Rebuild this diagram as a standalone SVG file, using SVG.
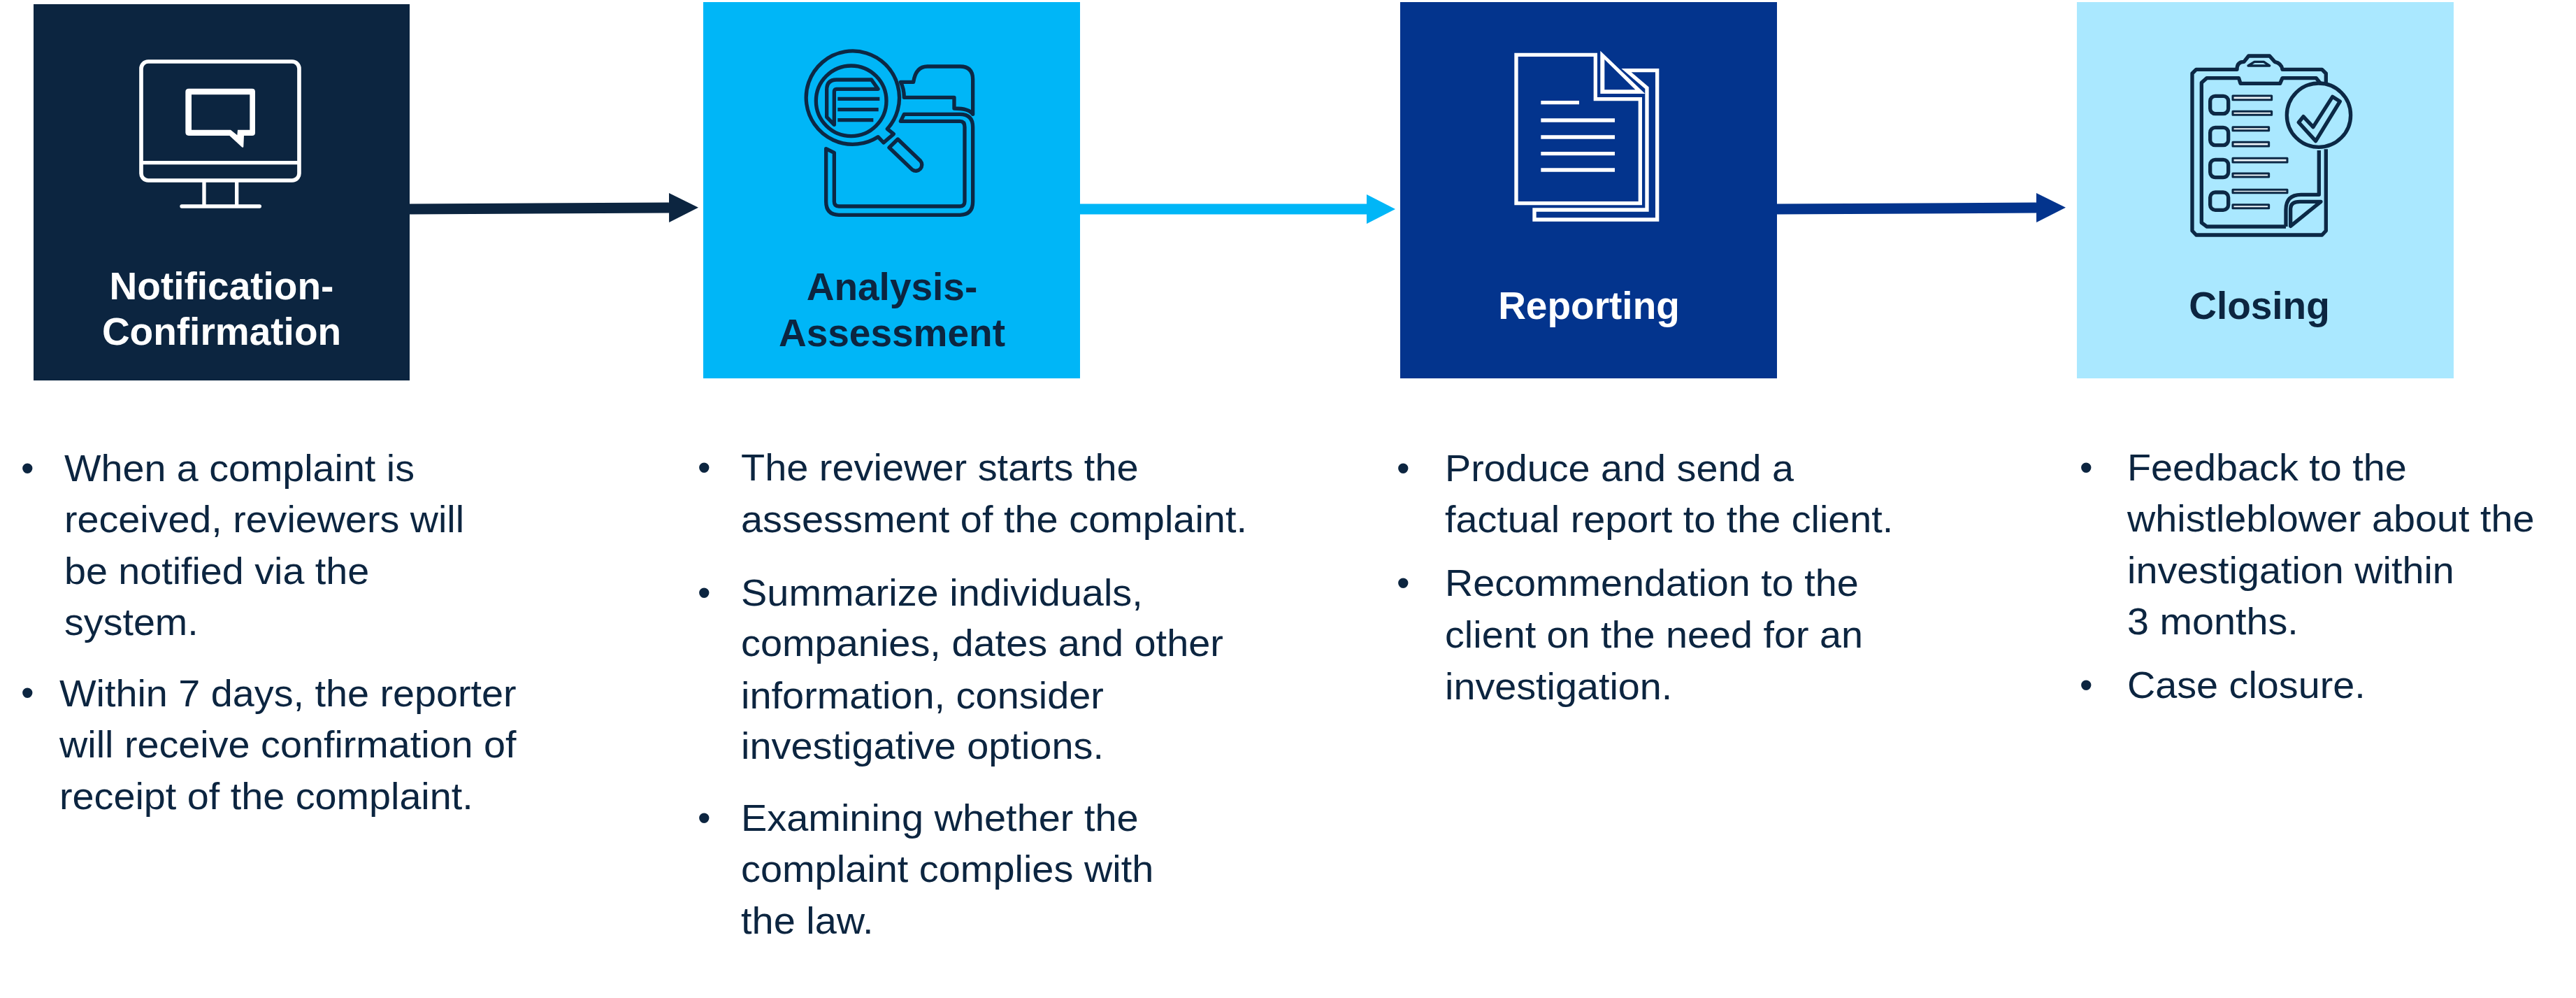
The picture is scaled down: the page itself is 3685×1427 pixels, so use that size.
<svg xmlns="http://www.w3.org/2000/svg" width="3685" height="1427" viewBox="0 0 3685 1427">
<style>
text{font-family:"Liberation Sans",Arial,sans-serif}
.h{font-size:55px;font-weight:700;text-anchor:middle}
.w{fill:#fff}
.d{fill:#0c2540}
.t{font-size:53px;fill:#0c2540}
.i{fill:none;stroke-linejoin:round}
.iw{stroke:#fff}
.id{stroke:#0c2845}
.c{stroke-width:15;fill:none}
.cl{fill:#eef4f8;stroke:#0c2845;stroke-width:9}
</style>
<defs>
<marker id="m1" markerUnits="userSpaceOnUse" markerWidth="44" markerHeight="44" refX="0" refY="21" orient="auto"><path d="M0 0L42 21L0 42Z" fill="#0c2540"/></marker>
<marker id="m2" markerUnits="userSpaceOnUse" markerWidth="44" markerHeight="44" refX="0" refY="21" orient="auto"><path d="M0 0L41 21L0 42Z" fill="#00b6f7"/></marker>
<marker id="m3" markerUnits="userSpaceOnUse" markerWidth="44" markerHeight="44" refX="0" refY="21" orient="auto"><path d="M0 0L42 21L0 42Z" fill="#03348d"/></marker>
</defs>
<rect width="3685" height="1427" fill="#fff"/>
<g id="connectors">
<line x1="586" y1="299" x2="957" y2="297" class="c" stroke="#0c2540" marker-end="url(#m1)"/>
<line x1="1545" y1="299" x2="1955" y2="299" class="c" stroke="#00b6f7" marker-end="url(#m2)"/>
<line x1="2542" y1="299" x2="2913" y2="297" class="c" stroke="#03348d" marker-end="url(#m3)"/>
</g>
<g id="node-notification">
<rect x="48" y="6" width="538" height="538" fill="#0c2540"/>
<g transform="translate(180 70) scale(.3333)" class="i iw">
<rect x="66" y="54" width="678" height="510" rx="30" stroke-width="17"/>
<path d="M66 488H744" stroke-width="16"/>
<path d="M336 564V675M476 564V675" stroke-width="16"/>
<path d="M240 675H574" stroke-width="16" stroke-linecap="round"/>
<path d="M270 170H542Q555 170 555 183V360Q555 372 542 372H507L505 418Q505 426 497 420L445 372H270Q256 372 256 358V184Q256 170 270 170ZM282 196V347H450L478 370L480 347H532V196Z" fill="#fff" fill-rule="evenodd" stroke="none"/>
</g>
<text class="h w" x="317" y="428">Notification-</text>
<text class="h w" x="317" y="493">Confirmation</text>
<text class="t" x="30" y="688">•</text>
<text class="t" x="30" y="1009">•</text>
<g transform="translate(92 0) scale(1.05 1)">
<text class="t" y="688">When a complaint is</text>
<text class="t" y="761">received, reviewers will</text>
<text class="t" y="835">be notified via the</text>
<text class="t" y="908">system.</text>
</g>
<g transform="translate(85 0) scale(1.052 1)">
<text class="t" y="1010">Within 7 days, the reporter</text>
<text class="t" y="1083">will receive confirmation of</text>
<text class="t" y="1157">receipt of the complaint.</text>
</g>
</g>
<g id="node-analysis">
<rect x="1006" y="3" width="539" height="538" fill="#00b6f7"/>
<g transform="translate(1130 50) scale(.3333)" class="i id" stroke-width="16">
<path d="M378 437A200 200 0 1 1 418 403L445 425L402 462Z"/>
<circle cx="263" cy="283" r="151"/>
<path d="M190 385L158 352V235Q158 192 200 192H350L378 232H200Q190 232 190 245Z"/>
<path d="M205 274H385M205 320H380M205 365H358"/>
<path d="M426 483L463 447L560 540A26 26 0 0 1 525 578Z"/>
<path d="M475 202H530Q540 135 590 135H730Q785 135 785 190V340Q770 315 705 315V268H490Q490 230 475 202Z"/>
<path d="M490 340H730Q785 340 785 395V715Q785 772 730 772H210Q155 772 155 715V488L190 505V715Q190 735 210 735H730Q750 735 750 715V395Q750 370 730 370H475Z"/>
</g>
<text class="h d" x="1276" y="429">Analysis-</text>
<text class="h d" x="1276" y="495">Assessment</text>
<text class="t" x="998" y="687">•</text>
<text class="t" x="998" y="866">•</text>
<text class="t" x="998" y="1188">•</text>
<g transform="translate(1060 0) scale(1.055 1)">
<text class="t" y="687">The reviewer starts the</text>
<text class="t" y="761">assessment of the complaint.</text>
<text class="t" y="866">Summarize individuals,</text>
<text class="t" y="938">companies, dates and other</text>
<text class="t" y="1013">information, consider</text>
<text class="t" y="1085">investigative options.</text>
<text class="t" y="1188">Examining whether the</text>
<text class="t" y="1261">complaint complies with</text>
<text class="t" y="1335">the law.</text>
</g>
</g>
<g id="node-reporting">
<rect x="2003" y="3" width="539" height="538" fill="#03348d"/>
<g transform="translate(2150 60) scale(.3333)" class="i iw" stroke-width="16">
<path d="M57 55H397V245H589V692H57Z" stroke-linejoin="miter"/>
<path d="M418 38L610 222H418ZM436 75V205H568Z" fill="#fff" fill-rule="evenodd" stroke="none"/>
<path d="M530 122H662V762H135V720H618V197Z" stroke-linejoin="miter"/>
<path d="M163 260H327M163 336H480M163 408H480M163 479H480M163 549H480"/>
</g>
<text class="h w" x="2273" y="456">Reporting</text>
<text class="t" x="1998" y="688">•</text>
<text class="t" x="1998" y="852">•</text>
<g transform="translate(2067 0) scale(1.052 1)">
<text class="t" y="688">Produce and send a</text>
<text class="t" y="761">factual report to the client.</text>
<text class="t" y="852">Recommendation to the</text>
<text class="t" y="926">client on the need for an</text>
<text class="t" y="1000">investigation.</text>
</g>
</g>
<g id="node-closing">
<rect x="2971" y="3" width="539" height="538" fill="#aae8ff"/>
<g transform="translate(3110 60) scale(.3333)" class="i id" stroke-width="16">
<path d="M652 460V810L635 828H95L78 810V135L95 118H270Q270 85 300 85L320 60H410L432 85Q462 92 465 118H635L652 135V175"/>
<path d="M318 102L345 85H385L410 102Z" stroke-width="10"/>
<path d="M480 792H140L118 775V175L140 155H278L285 178H455L465 155H610L630 180"/>
<path d="M480 792V720Q480 655 545 655H622V465"/>
<path d="M500 790V715Q500 685 540 685H630Z"/>
<circle cx="621" cy="314" r="137"/>
<path d="M535 345L555 320L597 365L680 235L712 255L608 425Z"/>
<rect x="155" y="232" width="78" height="76" rx="22"/>
<rect x="155" y="367" width="78" height="76" rx="22"/>
<rect x="155" y="505" width="78" height="76" rx="22"/>
<rect x="155" y="645" width="78" height="76" rx="22"/>
<rect class="cl" x="252" y="231" width="167" height="17"/>
<rect class="cl" x="252" y="298" width="167" height="15"/>
<rect class="cl" x="252" y="365" width="155" height="15"/>
<rect class="cl" x="252" y="430" width="155" height="17"/>
<rect class="cl" x="252" y="499" width="234" height="17"/>
<rect class="cl" x="252" y="564" width="155" height="15"/>
<rect class="cl" x="252" y="634" width="234" height="13"/>
<rect class="cl" x="252" y="698" width="155" height="15"/>
</g>
<text class="h d" x="3232" y="456">Closing</text>
<text class="t" x="2975" y="687">•</text>
<text class="t" x="2975" y="998">•</text>
<g transform="translate(3043 0) scale(1.052 1)">
<text class="t" y="687">Feedback to the</text>
<text class="t" y="760">whistleblower about the</text>
<text class="t" y="834">investigation within</text>
<text class="t" y="907">3 months.</text>
<text class="t" y="998">Case closure.</text>
</g>
</g>
</svg>
